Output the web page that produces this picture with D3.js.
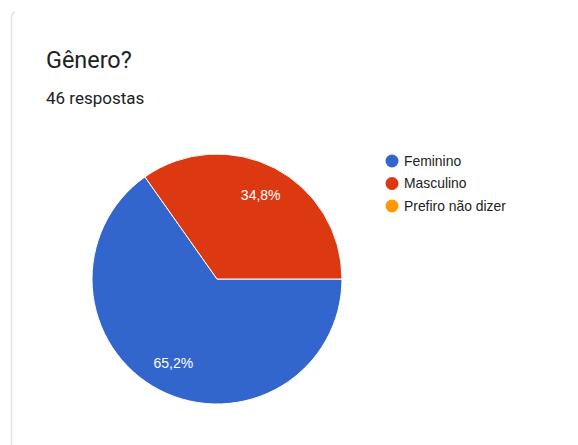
<!DOCTYPE html>
<html>
<head>
<meta charset="utf-8">
<script src="https://cdn.jsdelivr.net/npm/d3@7"></script>
<style>
  html, body { margin: 0; padding: 0; background: #fff; }
  svg { display: block; }
</style>
</head>
<body>
<svg id="chart" width="578" height="445"></svg>
<script>
// Survey answers
const categories = ["Feminino", "Masculino", "Prefiro não dizer"];
const counts = [30, 16, 0];
const colors = ["#3366cc", "#dc3912", "#ff9900"];
const title = "Gênero?";
const subtitle = "46 respostas";

const svg = d3.select("#chart");
const total = d3.sum(counts);

// Card left edge with its rounded top corner
svg.append("path")
  .attr("d", "M11.5,445 L11.5,18 Q11.5,13 15,12")
  .attr("fill", "none")
  .attr("stroke", "#e3e1ee")
  .attr("stroke-width", 1.5);

svg.append("text")
  .attr("x", 46).attr("y", 68)
  .attr("font-family", "Roboto, 'Noto Sans', Arial, sans-serif")
  .attr("font-size", 23.4)
  .attr("fill", "#202124")
  .text(title);

svg.append("text")
  .attr("x", 46).attr("y", 104)
  .attr("font-family", "Roboto, 'Noto Sans', Arial, sans-serif")
  .attr("font-size", 17)
  .attr("fill", "#202124")
  .text(subtitle);

const cx = 217, cy = 279, r = 125;
const color = d3.scaleOrdinal().domain(categories).range(colors);

const pie = d3.pie()
  .sort(null)
  .value(d => d.value)
  .startAngle(Math.PI / 2)
  .endAngle(Math.PI / 2 + 2 * Math.PI);

const data = categories.map((c, i) => ({ name: c, value: counts[i] }));
const arcs = pie(data);

const arc = d3.arc().innerRadius(0).outerRadius(r);
const labelArc = d3.arc().innerRadius(r * 0.76).outerRadius(r * 0.76);

const g = svg.append("g").attr("transform", `translate(${cx},${cy})`);

g.selectAll("path.slice")
  .data(arcs.filter(d => d.data.value > 0))
  .join("path")
  .attr("class", "slice")
  .attr("d", arc)
  .attr("fill", d => color(d.data.name))
  .attr("stroke", "#fff")
  .attr("stroke-width", 1);

const fmt = v => (v * 100).toFixed(1).replace(".", ",") + "%";

g.selectAll("text.pct")
  .data(arcs.filter(d => d.data.value > 0))
  .join("text")
  .attr("class", "pct")
  .attr("transform", d => `translate(${labelArc.centroid(d)})`)
  .attr("text-anchor", "middle")
  .attr("dy", "0.35em")
  .attr("font-family", "Arial, 'Liberation Sans', sans-serif")
  .attr("font-size", 14)
  .attr("fill", "#fff")
  .text(d => fmt(d.data.value / total));

// Legend
const legend = svg.append("g").attr("transform", "translate(392,161)");
const item = legend.selectAll("g")
  .data(categories)
  .join("g")
  .attr("transform", (d, i) => `translate(0,${i * 22.5})`);

item.append("circle")
  .attr("r", 6.5)
  .attr("fill", d => color(d));

item.append("text")
  .attr("x", 12)
  .attr("dy", "0.35em")
  .attr("font-family", "Arial, 'Liberation Sans', sans-serif")
  .attr("font-size", 13.9)
  .attr("fill", "#222")
  .text(d => d);
</script>
</body>
</html>
